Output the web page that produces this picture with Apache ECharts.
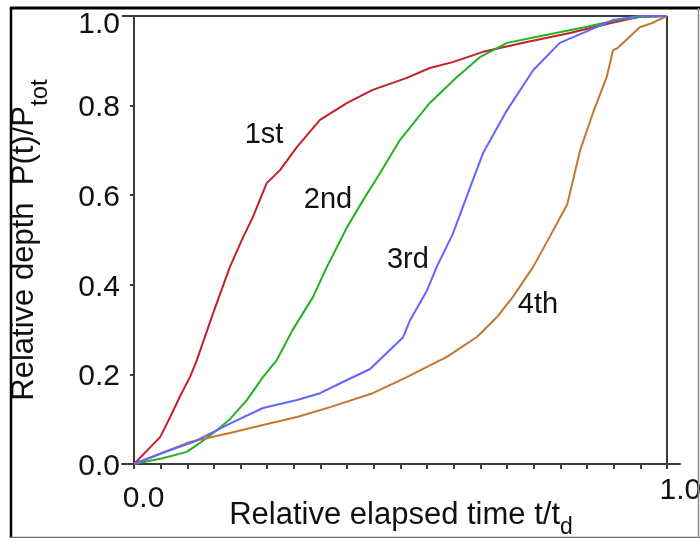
<!DOCTYPE html>
<html>
<head>
<meta charset="utf-8">
<title>Relative depth vs relative elapsed time</title>
<script src="https://cdn.jsdelivr.net/npm/echarts@6/dist/echarts.min.js"></script>
<style>
  html, body { margin: 0; padding: 0; background: #ffffff; }
  #chart { width: 700px; height: 538px; }
</style>
</head>
<body>
<div id="chart"></div>
<script>
// Relative depth P(t)/Ptot against relative elapsed time t/td, one curve per pass
const curve1st = [
  [0, 0], [0.049, 0.06], [0.068, 0.105], [0.086, 0.15], [0.105, 0.194], [0.118, 0.232],
  [0.148, 0.335], [0.18, 0.44], [0.205, 0.507], [0.223, 0.551], [0.249, 0.627], [0.274, 0.656],
  [0.306, 0.708], [0.349, 0.768], [0.40, 0.806], [0.448, 0.835], [0.512, 0.862], [0.555, 0.884],
  [0.598, 0.897], [0.655, 0.92], [0.737, 0.942], [0.818, 0.962], [0.893, 0.984], [0.949, 0.998], [1.0, 1.0]
];
const curve2nd = [
  [0, 0], [0.054, 0.013], [0.099, 0.027], [0.124, 0.047], [0.156, 0.076], [0.18, 0.10],
  [0.212, 0.143], [0.242, 0.194], [0.268, 0.232], [0.298, 0.300], [0.336, 0.373], [0.362, 0.44],
  [0.40, 0.529], [0.43, 0.589], [0.462, 0.65], [0.499, 0.723], [0.555, 0.806], [0.606, 0.864],
  [0.649, 0.908], [0.70, 0.94], [0.775, 0.958], [0.85, 0.976], [0.906, 0.991], [0.949, 0.998], [1.0, 1.0]
];
const curve3rd = [
  [0, 0], [0.054, 0.025], [0.111, 0.049], [0.18, 0.09], [0.242, 0.125], [0.306, 0.143],
  [0.349, 0.158], [0.392, 0.183], [0.443, 0.212], [0.505, 0.283], [0.518, 0.321], [0.55, 0.388],
  [0.568, 0.44], [0.598, 0.513], [0.636, 0.634], [0.655, 0.694], [0.70, 0.79], [0.749, 0.879],
  [0.799, 0.94], [0.856, 0.969], [0.899, 0.991], [0.949, 1.0], [1.0, 1.0]
];
const curve4th = [
  [0, 0], [0.054, 0.025], [0.105, 0.049], [0.18, 0.069], [0.242, 0.087], [0.306, 0.105],
  [0.368, 0.127], [0.448, 0.158], [0.512, 0.194], [0.587, 0.239], [0.644, 0.284], [0.681, 0.328],
  [0.711, 0.373], [0.749, 0.44], [0.78, 0.507], [0.813, 0.58], [0.837, 0.70], [0.861, 0.783],
  [0.887, 0.864], [0.899, 0.924], [0.908, 0.929], [0.949, 0.975], [0.972, 0.984], [1.0, 1.0]
];

// Axis ticks and labels
const xTickValues = [0, 0.05, 0.1, 0.15, 0.2, 0.25, 0.3, 0.35, 0.4, 0.45, 0.5,
                     0.55, 0.6, 0.65, 0.7, 0.75, 0.8, 0.85, 0.9, 0.95, 1.0];
const xLabelValues = [0, 1];
const yLabelValues = [0, 0.2, 0.4, 0.6, 0.8, 1.0];

const FONT = '"Liberation Sans", Arial, Helvetica, sans-serif';
const INK = '#111111';
const AXIS = '#3c3c3c';
const X_MIN = -0.0225;
const X_MAX = 1.0245;

const chart = echarts.init(document.getElementById('chart'), null, { renderer: 'canvas' });

function lineSeries(name, data, color, tag, tagAt, z) {
  return {
    name: name,
    type: 'line',
    data: data,
    showSymbol: false,
    symbol: 'none',
    smooth: false,
    z: z,
    silent: true,
    lineStyle: { color: color, width: 2 },
    markPoint: {
      silent: true,
      symbol: 'circle',
      symbolSize: 1,
      itemStyle: { color: 'rgba(0,0,0,0)' },
      label: {
        show: true,
        position: 'inside',
        offset: [0, 2],
        formatter: tag,
        color: INK,
        fontFamily: FONT,
        fontSize: 29
      },
      data: [{ coord: tagAt }]
    }
  };
}

const option = {
  animation: false,
  backgroundColor: '#ffffff',
  grid: {
    left: 122, right: 20, top: 16, bottom: 74,
    containLabel: false,
    outerBoundsMode: 'none'
  },
  xAxis: {
    type: 'value',
    min: X_MIN,
    max: X_MAX,
    name: '{m|Relative elapsed time t/t}{s|d}',
    nameLocation: 'middle',
    nameGap: 28,
    nameMoveOverlap: false,
    nameTextStyle: {
      color: INK,
      fontFamily: FONT,
      rich: {
        m: { fontSize: 31, fontFamily: FONT, color: INK },
        s: { fontSize: 23, fontFamily: FONT, color: INK, padding: [24, 0, 0, 0] }
      }
    },
    axisLine: { show: true, onZero: false, lineStyle: { color: AXIS, width: 2 } },
    axisTick: {
      show: true,
      inside: false,
      length: 5,
      customValues: xTickValues,
      lineStyle: { color: AXIS, width: 2 }
    },
    axisLabel: {
      show: true,
      customValues: xLabelValues,
      margin: 12,
      formatter: function (v) {
        return v === 0 ? '{a|' + v.toFixed(1) + '}' : '{b|' + v.toFixed(1) + '}';
      },
      rich: {
        a: { fontSize: 30, fontFamily: FONT, color: INK, padding: [8, 0, 0, 19] },
        b: { fontSize: 30, fontFamily: FONT, color: INK, padding: [0, 0, 0, 27] }
      }
    },
    splitLine: { show: false }
  },
  yAxis: {
    type: 'value',
    min: 0,
    max: 1,
    interval: 0.2,
    name: '{m|Relative depth  P(t)/P}{s|tot}',
    nameLocation: 'middle',
    nameRotate: 90,
    nameGap: 70,
    nameTextStyle: {
      color: INK,
      fontFamily: FONT,
      rich: {
        m: { fontSize: 31, fontFamily: FONT, color: INK },
        s: { fontSize: 24, fontFamily: FONT, color: INK, padding: [32, 0, 0, 0] }
      }
    },
    axisLine: { show: true, lineStyle: { color: AXIS, width: 2 } },
    axisTick: { show: true, inside: false, length: 4, lineStyle: { color: AXIS, width: 2 } },
    axisLabel: {
      show: true,
      customValues: yLabelValues,
      margin: 2,
      formatter: function (v) {
        return v === 1 ? '{t|' + v.toFixed(1) + '}' : '{n|' + v.toFixed(1) + '}';
      },
      rich: {
        n: { fontSize: 30, fontFamily: FONT, color: INK, padding: [5, 0, 0, 0] },
        t: { fontSize: 30, fontFamily: FONT, color: INK, padding: [18, 0, 0, 0] }
      }
    },
    splitLine: { show: false }
  },
  series: [
    {
      // plot frame: top edge at 1.0 and right edge at t/td = 1
      name: 'frame',
      type: 'line',
      data: [],
      z: 1,
      silent: true,
      markLine: {
        silent: true,
        symbol: 'none',
        animation: false,
        label: { show: false },
        lineStyle: { color: AXIS, width: 2, type: 'solid' },
        data: [
          [{ coord: [X_MIN, 1] }, { coord: [1, 1] }],
          [{ coord: [1, 1] }, { coord: [1, 0] }]
        ]
      }
    },
    lineSeries('1st', curve1st, '#c4202a', '1st', [0.244, 0.739], 3),
    lineSeries('2nd', curve2nd, '#20b420', '2nd', [0.364, 0.594], 4),
    lineSeries('4th', curve4th, '#c8752d', '4th', [0.758, 0.359], 5),
    lineSeries('3rd', curve3rd, '#6464ff', '3rd', [0.514, 0.46], 6)
  ],
  graphic: [
    { type: 'line', silent: true, z: 100, shape: { x1: 10, y1: 8, x2: 700, y2: 8 },
      style: { stroke: '#000000', lineWidth: 3 } },
    { type: 'line', silent: true, z: 100, shape: { x1: 11, y1: 7, x2: 11, y2: 538 },
      style: { stroke: '#000000', lineWidth: 2.5 } },
    { type: 'line', silent: true, z: 100, shape: { x1: 10, y1: 537.5, x2: 700, y2: 537.5 },
      style: { stroke: '#6e6e6e', lineWidth: 1.5 } },
    { type: 'line', silent: true, z: 100, shape: { x1: 698.5, y1: 8, x2: 698.5, y2: 538 },
      style: { stroke: '#8a8a8a', lineWidth: 1.5 } }
  ]
};

chart.setOption(option);
</script>
</body>
</html>
